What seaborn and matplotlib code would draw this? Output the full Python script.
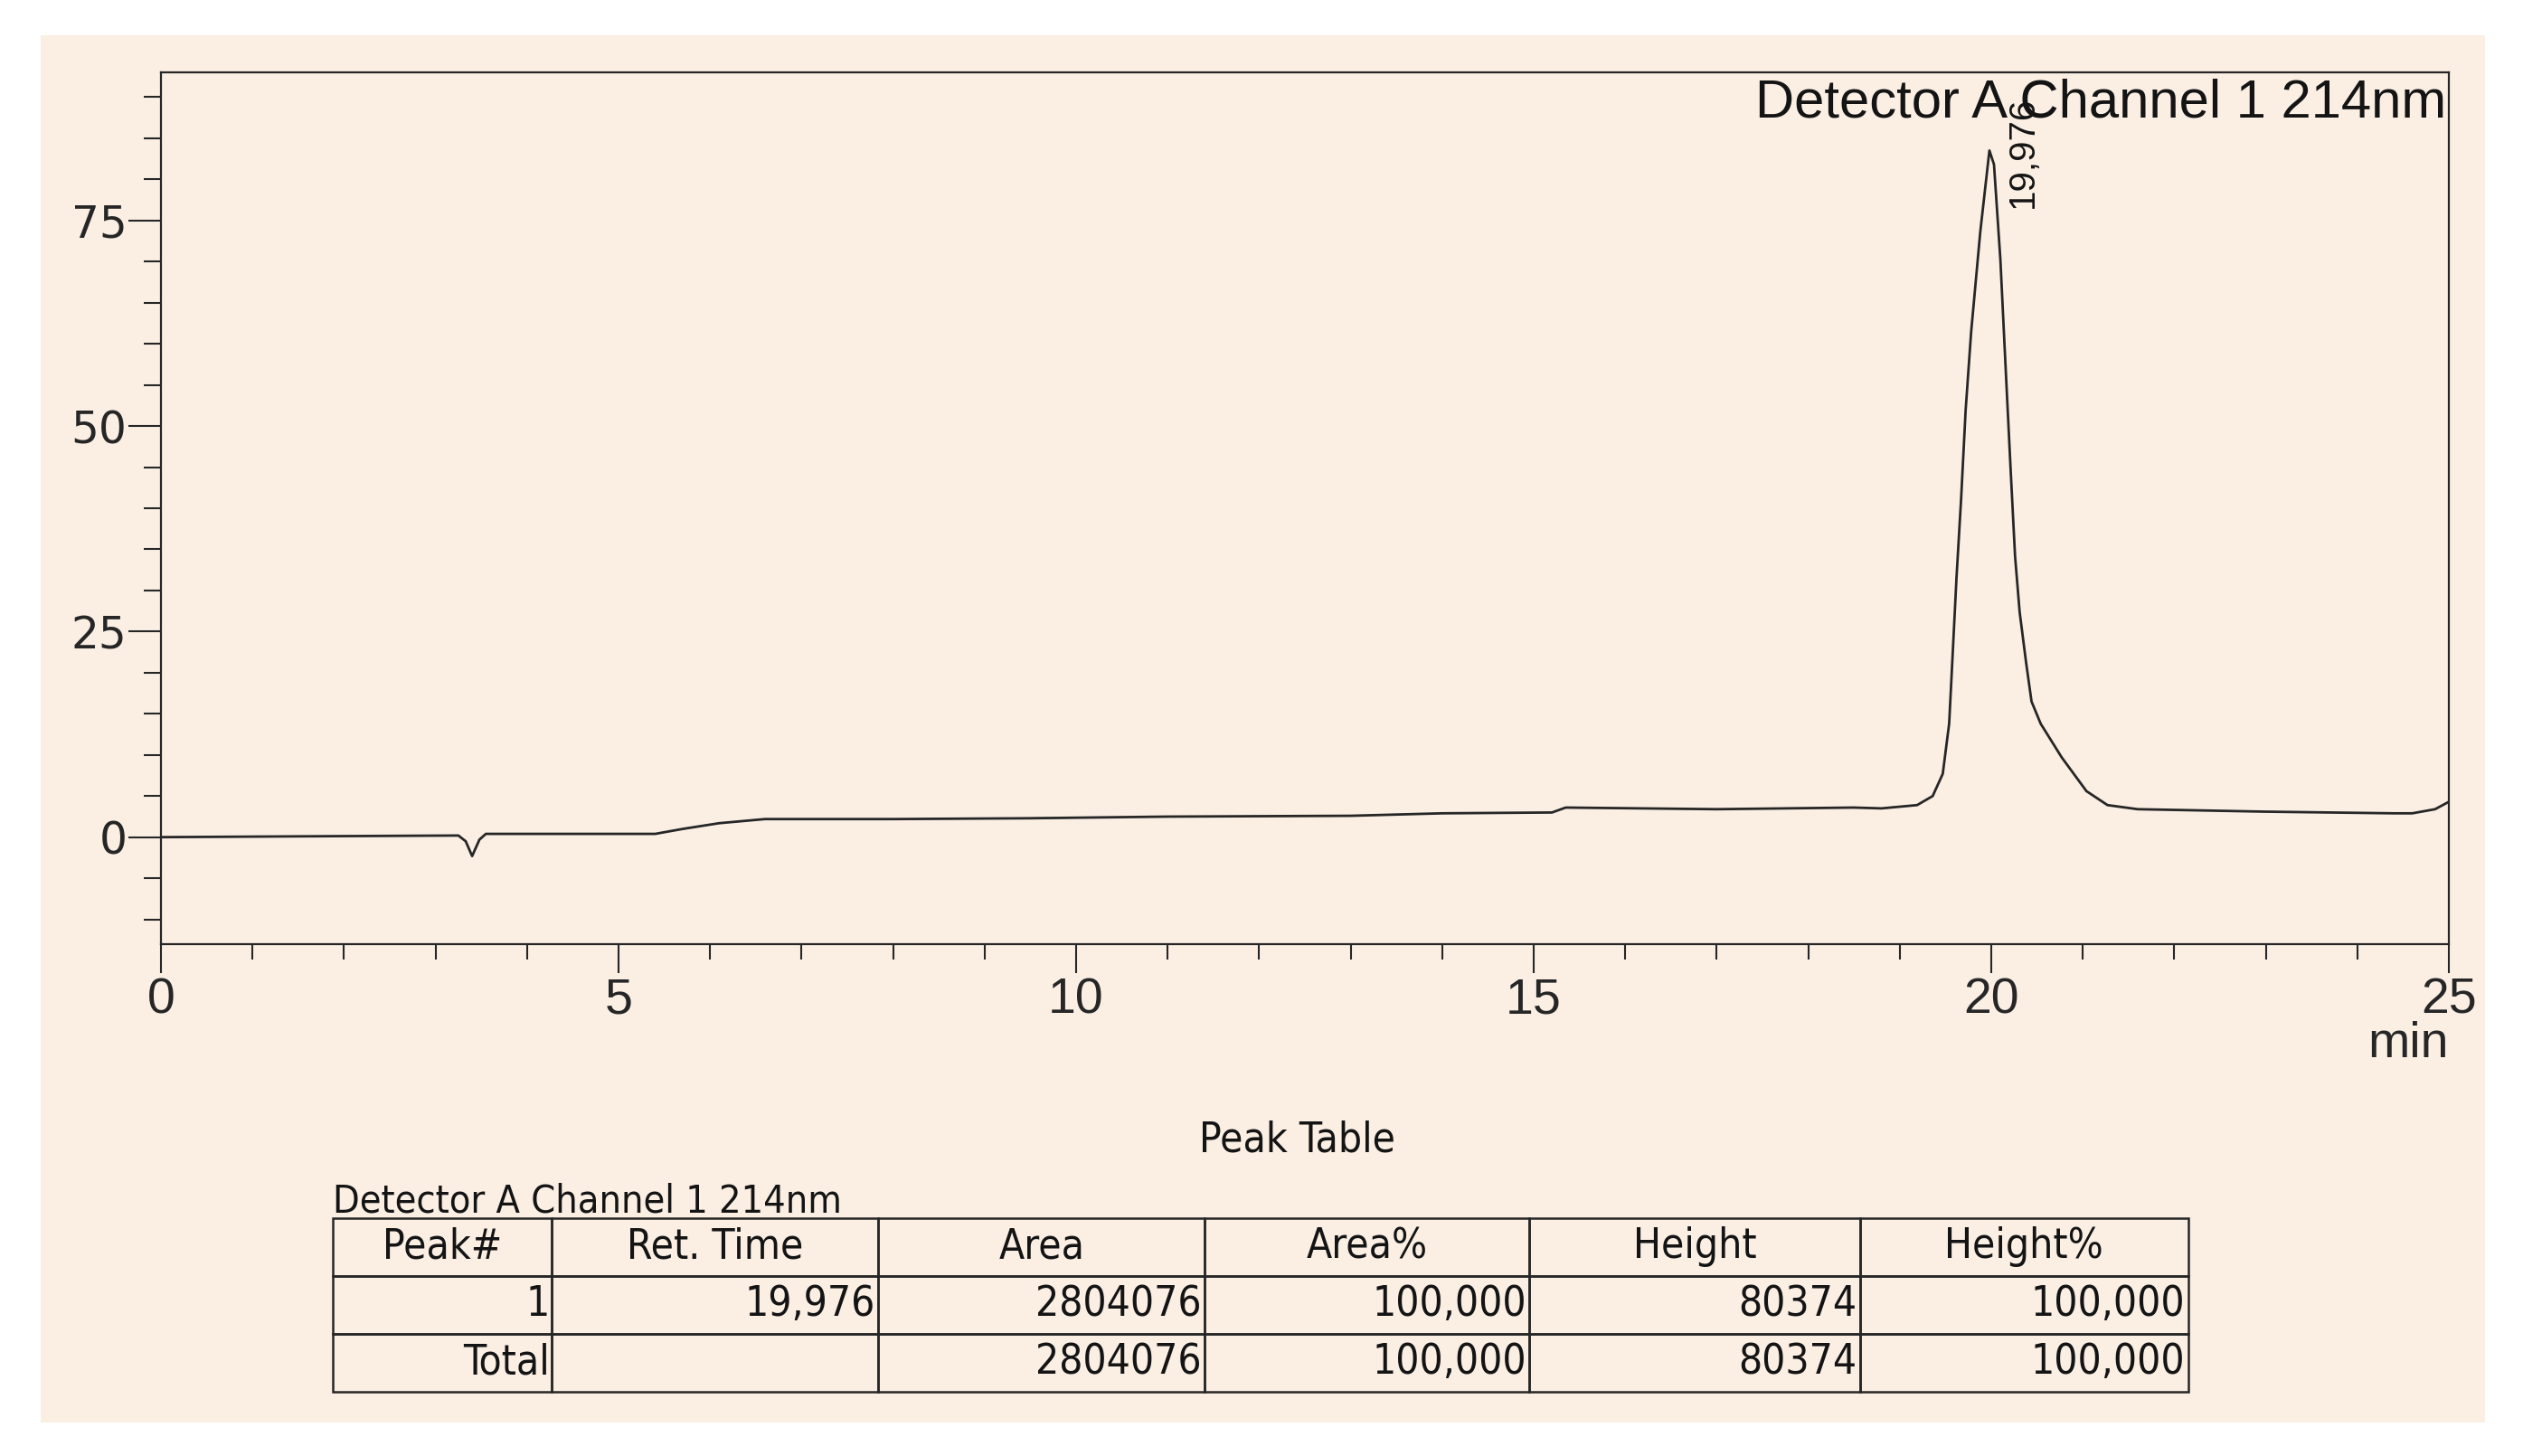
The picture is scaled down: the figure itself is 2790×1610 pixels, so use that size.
import matplotlib
matplotlib.use("Agg")
import pandas as pd
import matplotlib.pyplot as plt
import seaborn as sns
from matplotlib.ticker import MultipleLocator
from matplotlib.patches import Rectangle

# chromatogram trace (min, mV)
time_min = [0.0, 1.5, 3.25, 3.33, 3.40, 3.48, 3.55, 5.4, 5.7, 6.1, 6.6, 8.0, 9.5,
            11.0, 13.0, 14.0, 15.2, 15.35, 17.0, 18.5, 18.8, 19.19, 19.36, 19.47,
            19.54, 19.58, 19.62, 19.67, 19.72, 19.78, 19.88, 19.98, 20.03, 20.10,
            20.15, 20.21, 20.26, 20.31, 20.38, 20.44, 20.54, 20.77, 21.04, 21.27,
            21.60, 23.0, 24.4, 24.6, 24.85, 25.0]
signal_mv = [0.0, 0.1, 0.2, -0.5, -2.3, -0.3, 0.4, 0.4, 1.0, 1.7, 2.2, 2.2, 2.3,
             2.5, 2.6, 2.9, 3.0, 3.6, 3.4, 3.6, 3.5, 3.9, 5.0, 7.7,
             13.8, 22.6, 31.5, 41.0, 51.9, 61.4, 73.6, 83.5, 81.8, 70.2,
             58.7, 45.1, 34.2, 27.4, 21.3, 16.5, 13.8, 9.7, 5.6, 3.9,
             3.4, 3.1, 2.9, 2.9, 3.4, 4.3]

y_major = [0, 25, 50, 75]
y_labels = ["0", "25", "50", "75"]

detector_name = "Detector A Channel 1 214nm"
peak_label = "19,976"

table_columns = ["Peak#", "Ret. Time", "Area", "Area%", "Height", "Height%"]
table_row_peak = ["1", "19,976", "2804076", "100,000", "80374", "100,000"]
table_row_total = ["Total", "", "2804076", "100,000", "80374", "100,000"]

paper = "#fbefe4"
ink = "#262626"

sns.set_style("white")
plt.rcParams["font.family"] = ["Liberation Sans", "DejaVu Sans"]

df = pd.DataFrame({"Time": time_min, "Signal": signal_mv})

fig = plt.figure(figsize=(27.9, 16.1), dpi=100, facecolor="white")
# scanned page
fig.patches.append(Rectangle((0.016, 0.023), 0.969, 0.953, transform=fig.transFigure,
                             facecolor=paper, edgecolor="none", zorder=-10))

ax = fig.add_axes([0.0638, 0.3516, 0.9068, 0.5987])
ax.set_facecolor("none")
sns.lineplot(data=df, x="Time", y="Signal", sort=False, estimator=None,
             color=ink, linewidth=2.0, ax=ax)

ax.set_xlim(0, 25)
ax.set_ylim(-13, 93)
ax.xaxis.set_major_locator(MultipleLocator(5))
ax.xaxis.set_minor_locator(MultipleLocator(1))
ax.set_yticks(y_major, labels=y_labels, fontfamily="DejaVu Sans")
ax.yaxis.set_minor_locator(MultipleLocator(5))
ax.tick_params(axis="x", which="major", direction="out", length=23, width=1.5,
               color=ink, labelsize=40, pad=3, bottom=True)
ax.tick_params(axis="x", which="minor", direction="out", length=12, width=1.5,
               color=ink, bottom=True)
ax.tick_params(axis="y", which="major", direction="out", length=26, width=1.5,
               color=ink, labelsize=35, pad=1, left=True)
ax.tick_params(axis="y", which="minor", direction="out", length=14, width=1.5,
               color=ink, left=True)
for sp in ax.spines.values():
    sp.set_visible(True)
    sp.set_color(ink)
    sp.set_linewidth(1.6)

ax.set_ylabel("")
ax.set_xlabel("min", loc="right", fontsize=40, labelpad=-2)

ax.text(0.999, 0.993, detector_name, transform=ax.transAxes, ha="right", va="top",
        fontsize=43, color="#141414")

apex = df.loc[df["Signal"].idxmax()]
ax.annotate(peak_label, xy=(apex["Time"], apex["Signal"]), xytext=(13, -46),
            textcoords="offset points", rotation=90, ha="left", va="bottom",
            fontsize=29, color="#141414")

# peak table
narrow = dict(family="DejaVu Sans", stretch="condensed")
fig.text(0.514, 0.2165, "Peak Table", ha="center", va="center", fontsize=33,
         color="#141414", **narrow)
fig.text(0.132, 0.175, detector_name, ha="left", va="center", fontsize=31,
         color="#141414", **narrow)

tax = fig.add_axes([0.132, 0.0442, 0.7353, 0.1193])
tax.axis("off")
tbl = tax.table(cellText=[table_row_peak, table_row_total], colLabels=table_columns,
                cellLoc="right", colLoc="center", bbox=[0, 0, 1, 1],
                colWidths=[0.118, 0.176, 0.176, 0.175, 0.178, 0.177])
tbl.auto_set_font_size(False)
tbl.set_fontsize(33)
for (r, c), cell in tbl.get_celld().items():
    cell.PAD = 0.01
    cell.set_facecolor("none")
    cell.set_edgecolor(ink)
    cell.set_linewidth(1.8)
    cell.get_text().set_fontfamily(narrow["family"])
    cell.get_text().set_fontstretch(narrow["stretch"])
    cell.get_text().set_color("#141414")

fig.savefig("out.png", dpi=100, facecolor="white")
